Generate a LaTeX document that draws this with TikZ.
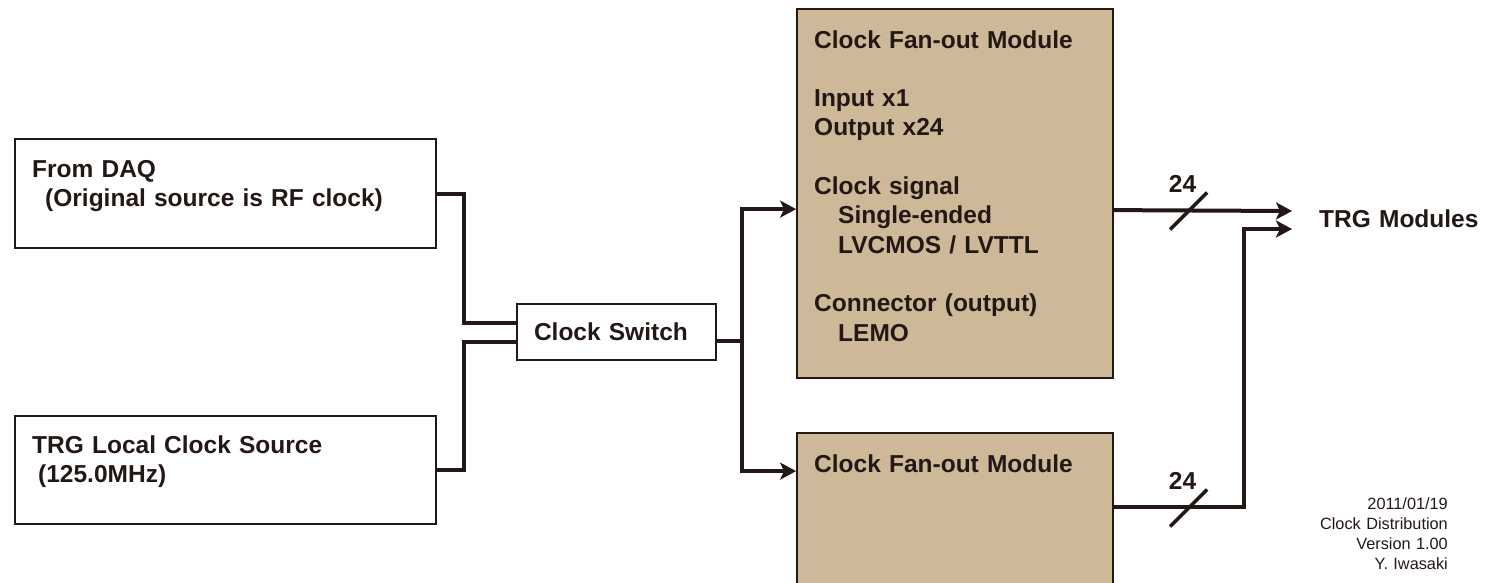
\documentclass[tikz,border=0pt]{standalone}
\usepackage{fontspec}
\setmainfont{Liberation Sans}
\usetikzlibrary{arrows.meta}

\definecolor{ink}{RGB}{35,24,21}
\definecolor{fanfill}{RGB}{205,185,152}
\newcommand{\bigtxt}{\bfseries\fontsize{24.5}{29.3}\selectfont}

\begin{document}
\begin{tikzpicture}[x=1pt, y=-1pt,
    >={Stealth[length=16pt,width=17pt,inset=4pt]},
    box/.style={draw=ink, line width=1.8pt, inner sep=0pt},
    fanbox/.style={box, fill=fanfill, minimum width=316pt},
    txt/.style={text=ink, font=\bigtxt, inner sep=0pt, align=left, anchor=base west},
    num/.style={text=ink, font=\bigtxt, inner sep=0pt, anchor=base},
    wire/.style={draw=ink, line width=4pt},
    slash/.style={draw=ink, line width=3.5pt}]
        \useasboundingbox (0,0) rectangle (1490,582);
        \clip (0,0) rectangle (1490,582);

        % sources
        \node[box, minimum width=421pt, minimum height=109pt] (daq) at (225.5,193.5) {};
        \node[box, minimum width=421pt, minimum height=108pt] (local) at (225.5,470) {};
        \node[txt, text width=380pt] (daqtxt) at (32,177)
            {From DAQ\\\hspace*{13pt}(Original source is RF clock)};
        \node[txt, text width=380pt] (localtxt) at (32,453)
            {TRG Local Clock Source\\\hspace*{6pt}(125.0MHz)};

        % switch
        \node[box, minimum width=199pt, minimum height=56pt, inner xsep=17pt,
              text width=165pt, align=left, font=\bigtxt, text=ink] (sw) at (616.5,332) {Clock Switch};

        % fan-out modules
        \node[fanbox, minimum height=369pt] (fan1) at (955,193.5) {};
        \node[fanbox, minimum height=207pt] (fan2) at (955,536.5) {};
        \node[txt, text width=290pt] (fan1txt) at (814,48)
            {Clock Fan-out Module\\[29.3pt]
             Input x1\\
             Output x24\\[29.3pt]
             Clock signal\\
             \hspace*{24pt}Single-ended\\
             \hspace*{24pt}LVCMOS / LVTTL\\[29.3pt]
             Connector (output)\\
             \hspace*{24pt}LEMO};
        \node[txt, text width=290pt] (fan2txt) at (814,472) {Clock Fan-out Module};

        % destination
        \node[txt, text width=170pt] (trg) at (1319,227) {TRG Modules};
        \coordinate (out1) at (1292,211);
        \coordinate (out2) at (1292,229);

        \draw[wire] (daq.east) -- ++(27,0) |- ([yshift=9pt]sw.west);
        \draw[wire] (local.east) -- ++(27,0) |- ([yshift=-10pt]sw.west);
        \draw[wire] ([yshift=-9pt]sw.east) -- ++(25,0) coordinate (split);
        \draw[wire,->] (split) |- ([yshift=-201pt]fan1.north west);
        \draw[wire,->] (split) |- ([yshift=-39pt]fan2.north west);

        \draw[wire,->] ([yshift=-202pt]fan1.north east) -- (out1);
        \draw[wire,->] ([yshift=-75pt]fan2.north east) -- ++(130,0) |- (out2);

        % bus width marks
        \coordinate (s1) at (1188.5,211);
        \coordinate (s2) at (1188.5,508);
        \draw[slash] ([shift={(-18.5,18.5)}]s1) -- ([shift={(18.5,-18.5)}]s1);
        \draw[slash] ([shift={(-18.5,18.5)}]s2) -- ([shift={(18.5,-18.5)}]s2);
        \node[num] (n1) at (1182.5,192) {24};
        \node[num] (n2) at (1182.5,489) {24};

        \node[text=ink, font=\fontsize{16.3}{20}\selectfont, inner sep=0pt,
              text width=150pt, align=right, anchor=base east] (stamp) at (1448,509)
            {2011/01/19\\Clock Distribution\\Version 1.00\\Y. Iwasaki};
    \end{tikzpicture}
\end{document}
